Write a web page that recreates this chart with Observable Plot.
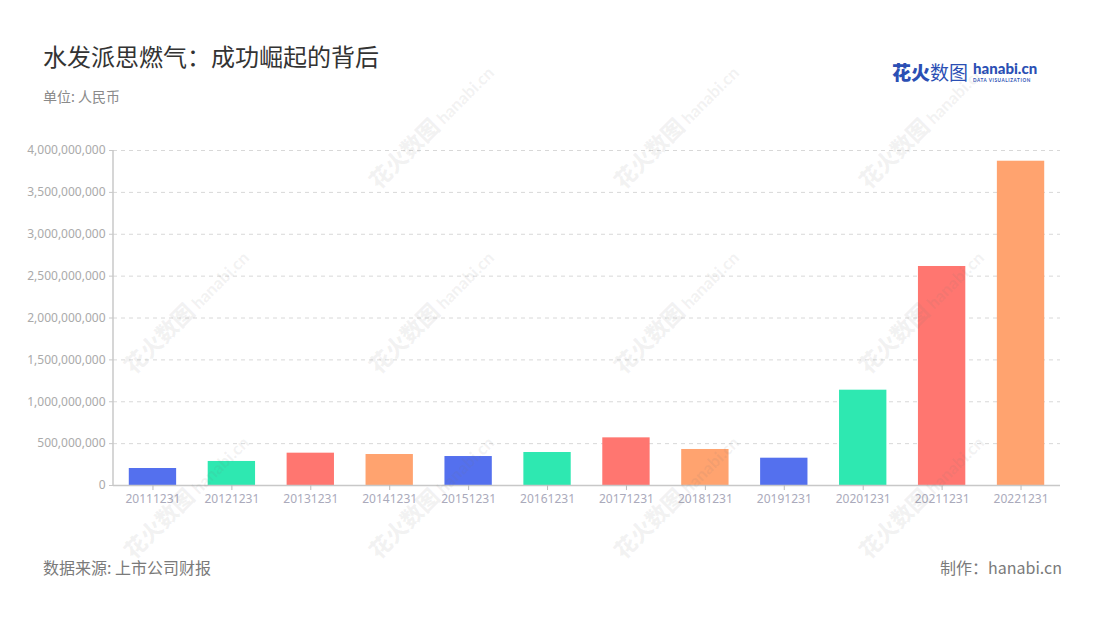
<!DOCTYPE html>
<html>
<head>
<meta charset="utf-8">
<script src="https://cdn.jsdelivr.net/npm/d3@7"></script>
<script src="https://cdn.jsdelivr.net/npm/@observablehq/plot@0.6"></script>
<style>
  html, body { margin: 0; padding: 0; background: #fff; }
  #wrap { position: relative; width: 1100px; height: 620px; overflow: hidden; font-family: "Noto Sans CJK SC", "Noto Sans", sans-serif; }
  #chart { position: absolute; left: 0; top: 0; }
  .title { position: absolute; left: 43px; top: 38px; font-size: 24px; color: #333; }
  .sub { position: absolute; left: 43px; top: 86px; font-size: 14px; color: #8a8a8a; }
  .src { position: absolute; left: 43px; top: 555px; font-size: 16px; color: #7a7a7a; }
  .maker { position: absolute; right: 38px; top: 555px; font-size: 16px; color: #7a7a7a; }
  .logo { position: absolute; left: 892px; top: 58px; display: flex; align-items: center; }
  .logo .cn { font-size: 19px; font-weight: 900; color: #2b4fb4; letter-spacing: 0px; }
  .logo .cn .l { font-weight: 400; }
  .logo .en { margin-left: 5px; display: flex; flex-direction: column; line-height: 1; }
  .logo .en .a { font-family: "Lato", sans-serif; font-weight: 900; font-size: 15px; color: #2b4fb4; }
  .logo .en .b { font-family: "Lato", sans-serif; font-weight: 700; font-size: 4.6px; color: #2b4fb4; letter-spacing: 0.6px; margin-top: 2px; }
  .wm { position: absolute; transform: translate(-50%, -50%) rotate(-45deg); white-space: nowrap; color: rgba(120,120,120,0.09); font-weight: 900; font-size: 22px; pointer-events: none; }
  .wm span { font-family: "Lato", sans-serif; font-size: 17px; margin-left: 4px; }
</style>
</head>
<body>
<div id="wrap">
  <div class="title">水发派思燃气：成功崛起的背后</div>
  <div class="sub">单位: 人民币</div>
  <div class="logo"><span class="cn">花火<span class="l">数图</span></span><span class="en"><span class="a">hanabi.cn</span><span class="b">DATA VISUALIZATION</span></span></div>
  <div id="chart"></div>
  <div class="src">数据来源: 上市公司财报</div>
  <div class="maker">制作：hanabi.cn</div>
</div>
<script>
const dates = ["20111231","20121231","20131231","20141231","20151231","20161231","20171231","20181231","20191231","20201231","20211231","20221231"];
const values = [203e6, 287e6, 386e6, 370e6, 346e6, 394e6, 569e6, 430e6, 326e6, 1138e6, 2615e6, 3872e6];
const palette = ["#5470ee", "#2ee8b1", "#ff7670", "#ffa36f"];
const yTicks = [0, 5e8, 1e9, 1.5e9, 2e9, 2.5e9, 3e9, 3.5e9, 4e9];

const data = dates.map((d, i) => ({date: d, value: values[i]}));

const chart = Plot.plot({
  width: 1100,
  height: 520,
  marginTop: 150,
  marginBottom: 35,
  marginLeft: 113,
  marginRight: 40,
  style: {fontFamily: "'Noto Sans', sans-serif", fontSize: "12px", color: "#aaa", background: "transparent"},
  x: {domain: dates, paddingInner: 0.4, paddingOuter: 0.2, round: false, label: null},
  y: {domain: [0, 4e9], label: null},
  color: {type: "ordinal", domain: dates, range: palette},
  marks: [
    Plot.gridY(yTicks.filter(t => t > 0), {stroke: "#d8d8d8", strokeOpacity: 1, strokeDasharray: "4,4"}),
    Plot.barY(data, {x: "date", y: "value", fill: "date"}),
    Plot.ruleY([0], {stroke: "#c8c8c8", strokeWidth: 1.5}),
    Plot.axisX({tickSize: 5, tickPadding: 4, stroke: "#bbb", fill: "#aab"}),
    Plot.axisY({ticks: yTicks, tickFormat: d3.format(","), tickSize: 4, tickPadding: 4, stroke: "#c8c8c8", fill: "#aaa"})
  ]
});
const svg = d3.select(chart);
svg.append("line").attr("x1", 113).attr("x2", 113).attr("y1", 150).attr("y2", 485).attr("stroke", "#c8c8c8").attr("stroke-width", 1.5);
document.getElementById("chart").appendChild(chart);

const wrap = document.getElementById("wrap");
const wmPos = [[430,125],[675,125],[920,125],[430,310],[675,310],[920,310],[430,495],[675,495],[920,495],[185,310],[185,495]];
for (const [x, y] of wmPos) {
  const el = document.createElement("div");
  el.className = "wm";
  el.style.left = x + "px";
  el.style.top = y + "px";
  el.innerHTML = "花火数图<span>hanabi.cn</span>";
  wrap.appendChild(el);
}
</script>
</body>
</html>
